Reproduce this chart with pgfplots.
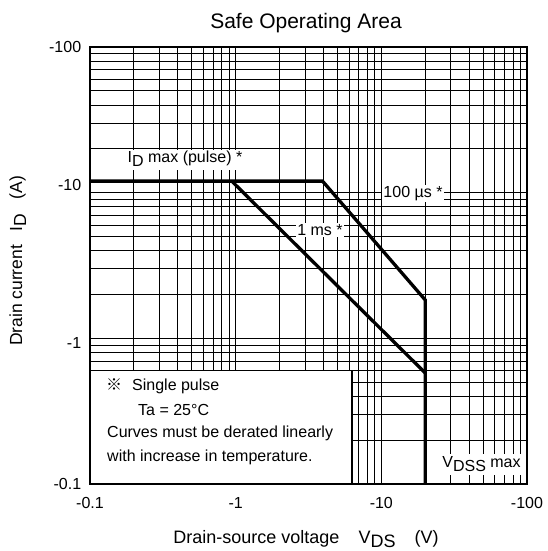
\documentclass[border=0pt]{standalone}
\usepackage{fontspec}
\setmainfont{Liberation Sans}
\newfontfamily\cjk{Noto Sans CJK JP}
\usepackage{pgfplots}
\pgfplotsset{compat=1.18}

\newcommand{\fs}[1]{\fontsize{#1bp}{#1bp}\selectfont}

\begin{document}
\begin{tikzpicture}
\path[use as bounding box] (0,0) rectangle (548bp,551bp);
\begin{axis}[
    at={(90bp,67bp)}, anchor=south west,
    width=437bp, height=437bp, scale only axis,
    xmode=log, ymode=log,
    xmin=0.1, xmax=100, ymin=0.1, ymax=100,
    xtick={0.1,1,10,100}, xticklabels={-0.1,-1,-10,-100},
    ytick={0.1,1,10,100}, yticklabels={},
    minor xtick={0.2,0.3,0.4,0.5,0.6,0.7,0.8,0.9,2,3,4,5,6,7,8,9,20,30,40,50,60,70,80,90},
    minor ytick={0.2,0.3,0.4,0.5,0.6,0.7,0.8,0.9,2,3,4,5,6,7,8,9,20,30,40,50,60,70,80,90},
    grid=both,
    major grid style={black, line width=0.9bp},
    minor grid style={black, line width=0.75bp},
    major tick length=0pt, minor tick length=0pt,
    axis line style={black, line width=2.2bp},
    tick label style={font=\fs{16}, text=black},
    xticklabel style={yshift=-10bp},
]
% 100 us curve (with ID max and VDSS limit)
\addplot[black, line width=3.3bp, line join=miter] coordinates {
    (0.1,12) (3.95,12) (20,1.835) (20,0.1)
};
% 1 ms curve
\addplot[black, line width=3.3bp] coordinates {
    (0.94,12) (20,0.579)
};
% note box
\draw[line width=1.5bp, fill=white] (axis cs:0.1,0.1) rectangle (axis cs:6.3,0.6);
\end{axis}

% y tick labels
\node[anchor=east, font=\fs{16}] at (84.7bp,504bp) {-100};
\node[anchor=east, font=\fs{16}] at (84.7bp,366bp) {-10};
\node[anchor=east, font=\fs{16}] at (84.7bp,208bp) {-1};
\node[anchor=east, font=\fs{16}] at (84.7bp,67bp) {-0.1};

% curve labels
\node[anchor=base, fill=white, inner xsep=2bp, inner ysep=1.5bp, font=\fs{16}]
    at (185bp,388bp) {I\raisebox{-4bp}{D} max (pulse) *\rule[-5.5bp]{0pt}{0pt}};
\node[anchor=base, fill=white, inner sep=1.5bp, font=\fs{16}]
    at (320bp,315.3bp) {1 ms *};
\node[anchor=base, fill=white, inner sep=1.5bp, font=\fs{16}]
    at (413bp,353.6bp) {100 µs *};
\node[anchor=base, fill=white, inner xsep=2bp, inner ysep=3bp, font=\fs{16}]
    at (481.5bp,83bp) {V\raisebox{-4bp}{DSS} max};

% note text
\node[anchor=base west, inner sep=0pt, font=\fs{16}] at (106bp,160bp) {{\cjk ※}\hspace{10bp}Single pulse};
\node[anchor=base west, inner sep=0pt, font=\fs{16}] at (138bp,135.5bp) {Ta = 25°C};
\node[anchor=base west, inner sep=0pt, font=\fs{16}] at (107bp,113bp) {Curves must be derated linearly};
\node[anchor=base west, inner sep=0pt, font=\fs{16}] at (107bp,89bp) {with increase in temperature.};

% title and axis labels
\node[anchor=base, font=\fs{21}] at (306bp,522bp) {Safe Operating Area};
\node[anchor=base, font=\fs{18}] at (306bp,8bp)
    {Drain-source voltage\hspace{19bp}V\raisebox{-4.5bp}{DS}\hspace{19bp}(V)};
\node[anchor=base, rotate=90, font=\fs{17.5}] at (22bp,290bp)
    {Drain current\hspace{13bp}I\raisebox{-4bp}{D}\hspace{15bp}(A)};
\end{tikzpicture}
\end{document}
